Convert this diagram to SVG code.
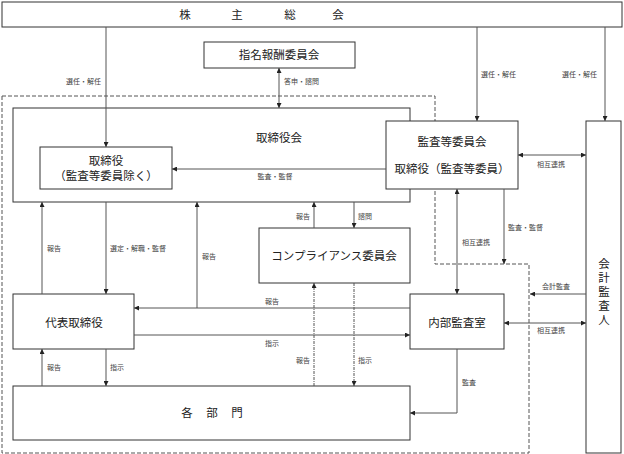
<svg xmlns="http://www.w3.org/2000/svg" width="624" height="454" viewBox="0 0 624 454">
<style>
.box{fill:#fff;stroke:#333;stroke-width:1}
.t{font-family:"Liberation Serif","Noto Sans CJK JP",serif;font-size:11.5px;fill:#222;text-anchor:middle}
.l{font-family:"Liberation Serif","Noto Sans CJK JP",serif;font-size:7px;fill:#444}
.c{fill:none;stroke:#555;stroke-width:1}
.d{fill:none;stroke:#555;stroke-width:1;stroke-dasharray:3,1,1,1}
.bd{fill:none;stroke:#555;stroke-width:1;stroke-dasharray:4,2}
</style>
<defs>
<marker id="a" viewBox="0 0 6 6" refX="6" refY="3" markerWidth="5" markerHeight="5" orient="auto-start-reverse" markerUnits="userSpaceOnUse">
<path d="M0,0 L6,3 L0,6 Z" fill="#222"/>
</marker>
</defs>
<rect width="624" height="454" fill="#fff"/>
<path class="bd" d="M2,96 H435 V264 H529 V453 H2 Z"/>
<g id="shareholders">
<rect class="box" x="2" y="2" width="620" height="25"/>
<text class="t" x="185" y="19">株</text>
<text class="t" x="237" y="19">主</text>
<text class="t" x="290" y="19">総</text>
<text class="t" x="338" y="19">会</text>
</g>
<g id="nomination">
<rect class="box" x="204" y="42" width="151" height="26"/>
<text class="t" x="279" y="59">指名報酬委員会</text>
</g>
<g id="board">
<rect class="box" x="13" y="108" width="397" height="94"/>
<text class="t" x="279" y="142">取締役会</text>
</g>
<g id="directors">
<rect class="box" x="40" y="147" width="132" height="42"/>
<text class="t" x="106" y="165">取締役</text>
<text class="t" x="106" y="180">（監査等委員除く）</text>
</g>
<g id="audit-committee">
<rect class="box" x="386" y="121" width="132" height="68"/>
<text class="t" x="452" y="146">監査等委員会</text>
<text class="t" x="452" y="173">取締役（監査等委員）</text>
</g>
<g id="auditor">
<rect class="box" x="586" y="121" width="35" height="332"/>
<text class="t" x="604" y="268">会</text>
<text class="t" x="604" y="282">計</text>
<text class="t" x="604" y="296">監</text>
<text class="t" x="604" y="310">査</text>
<text class="t" x="604" y="324">人</text>
</g>
<g id="compliance">
<rect class="box" x="259" y="228" width="151" height="55"/>
<text class="t" x="334" y="260">コンプライアンス委員会</text>
</g>
<g id="ceo">
<rect class="box" x="13" y="294" width="121" height="55"/>
<text class="t" x="74" y="327">代表取締役</text>
</g>
<g id="internal-audit">
<rect class="box" x="410" y="294" width="94" height="55"/>
<text class="t" x="457" y="327">内部監査室</text>
</g>
<g id="departments">
<rect class="box" x="13" y="386" width="397" height="54"/>
<text class="t" x="187" y="417">各</text>
<text class="t" x="212" y="417">部</text>
<text class="t" x="237" y="417">門</text>
</g>
<g id="connectors">
<path class="c" d="M106,27 V147" marker-end="url(#a)"/>
<path class="c" d="M279,68 V108" marker-start="url(#a)" marker-end="url(#a)"/>
<path class="c" d="M477,27 V121" marker-end="url(#a)"/>
<path class="c" d="M605,27 V121" marker-end="url(#a)"/>
<path class="c" d="M386,169 H172" marker-end="url(#a)"/>
<path class="c" d="M518,155 H586" marker-start="url(#a)" marker-end="url(#a)"/>
<path class="c" d="M457,189 V294" marker-start="url(#a)" marker-end="url(#a)"/>
<path class="c" d="M504,189 V264" marker-end="url(#a)"/>
<path class="c" d="M586,294 H530" marker-end="url(#a)"/>
<path class="c" d="M504,323 H586" marker-start="url(#a)" marker-end="url(#a)"/>
<path class="c" d="M457,349 V413 H410" marker-end="url(#a)"/>
<path class="c" d="M42,294 V202" marker-end="url(#a)"/>
<path class="c" d="M106,202 V294" marker-end="url(#a)"/>
<path class="c" d="M197,308 V202" marker-end="url(#a)"/>
<path class="c" d="M410,308 H134" marker-end="url(#a)"/>
<path class="c" d="M134,335 H410" marker-end="url(#a)"/>
<path class="c" d="M42,386 V349" marker-end="url(#a)"/>
<path class="c" d="M106,349 V386" marker-end="url(#a)"/>
<path class="c" d="M314,228 V202" marker-end="url(#a)"/>
<path class="c" d="M354,202 V228" marker-end="url(#a)"/>
<path class="d" d="M314,386 V283" marker-end="url(#a)"/>
<path class="d" d="M354,283 V386" marker-end="url(#a)"/>
</g>
<g id="labels">
<text class="l" x="101" y="84" text-anchor="end">選任・解任</text>
<text class="l" x="284" y="84">答申・諮問</text>
<text class="l" x="481" y="77">選任・解任</text>
<text class="l" x="562" y="77">選任・解任</text>
<text class="l" x="275" y="179" text-anchor="middle">監査・監督</text>
<text class="l" x="537" y="167">相互連携</text>
<text class="l" x="47" y="251">報告</text>
<text class="l" x="110" y="251">選定・解職・監督</text>
<text class="l" x="202" y="259">報告</text>
<text class="l" x="296" y="219">報告</text>
<text class="l" x="358" y="219">諮問</text>
<text class="l" x="462" y="245">相互連携</text>
<text class="l" x="508" y="230">監査・監督</text>
<text class="l" x="542" y="289">会計監査</text>
<text class="l" x="265" y="304">報告</text>
<text class="l" x="265" y="346">指示</text>
<text class="l" x="537" y="333">相互連携</text>
<text class="l" x="296" y="363">報告</text>
<text class="l" x="358" y="363">指示</text>
<text class="l" x="47" y="370">報告</text>
<text class="l" x="110" y="370">指示</text>
<text class="l" x="462" y="385">監査</text>
</g>
</svg>
